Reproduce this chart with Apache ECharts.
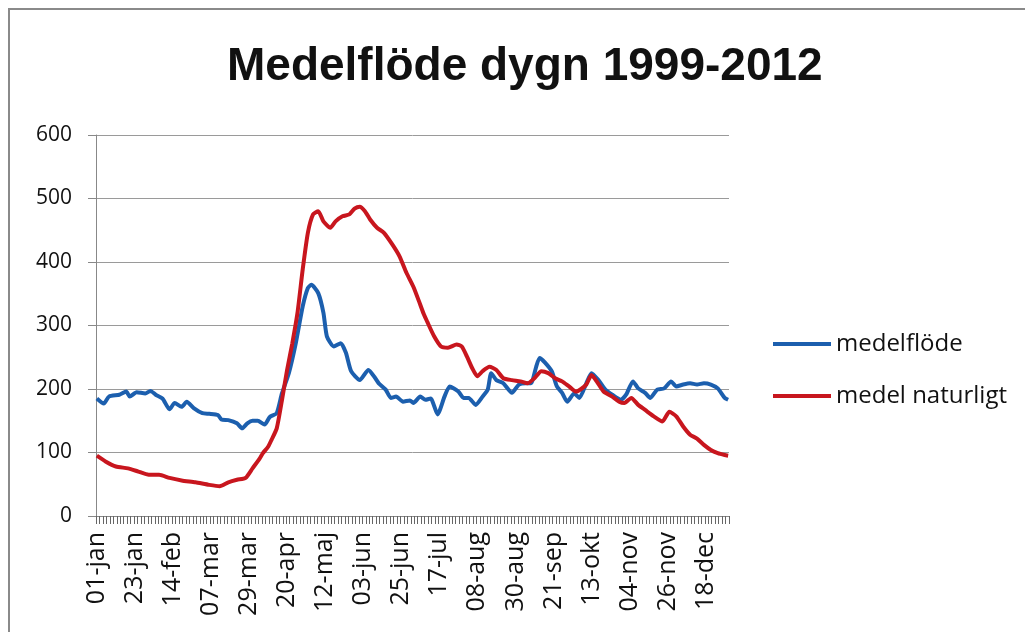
<!DOCTYPE html>
<html>
<head>
<meta charset="utf-8">
<script src="https://cdn.jsdelivr.net/npm/echarts@6/dist/echarts.min.js"></script>
<style>
html,body{margin:0;padding:0;background:#fff;}
#c{width:1025px;height:632px;}
</style>
</head>
<body>
<div id="c"></div>
<script>
// Category labels: daily dates of a leap year (1 jan .. 31 dec)
var monthNames = ['jan','feb','mar','apr','maj','jun','jul','aug','sep','okt','nov','dec'];
var monthLengths = [31,29,31,30,31,30,31,31,30,31,30,31];

// medelflöde: day index (0 = 01-jan) and value
var blueDays = [0,4,7,13,17,19,23,28,31,34,38,42,45,49,52,56,61,65,70,72,76,81,84,87,90,93,97,100,104,107,111,115,119,122,124,128,131,133,137,141,144,147,152,157,161,163,167,170,173,177,181,183,187,190,193,197,201,204,209,212,215,219,223,226,228,231,235,240,244,248,251,254,256,259,263,266,269,272,276,279,283,286,290,294,298,303,306,310,313,317,320,324,328,332,335,339,343,347,351,355,359,363,365];
var blueVals = [185,177,188,191,196,188,195,193,197,191,185,168,178,172,180,170,162,161,159,152,151,146,138,146,150,150,144,156,162,193,225,272,330,359,364,351,320,283,267,272,257,228,214,230,217,209,199,186,188,180,182,178,188,183,185,160,188,204,196,186,186,175,188,199,225,214,209,194,207,209,209,235,249,242,228,204,194,180,193,186,209,225,214,199,191,183,191,212,201,194,186,199,201,212,204,207,209,207,209,207,201,186,183];

// medel naturligt
var redDays = [0,5,11,18,24,30,36,42,49,57,65,71,76,81,86,90,94,96,99,101,104,107,110,113,116,119,122,125,128,131,135,138,142,146,149,152,155,158,162,166,171,175,179,183,186,189,191,195,199,203,208,211,214,217,220,223,227,231,235,240,245,249,253,257,261,265,269,273,277,280,283,286,289,293,298,302,305,309,313,317,322,327,331,335,339,343,347,351,355,359,363,365];
var redVals = [95,86,78,75,70,65,65,60,56,53,49,47,53,57,60,75,90,99,109,120,138,182,230,272,320,388,446,475,480,464,454,464,472,475,484,487,480,467,454,446,427,409,383,361,340,318,306,283,267,265,270,267,251,233,220,228,235,230,217,214,212,209,217,228,225,217,212,204,196,200,207,222,212,196,188,180,178,186,175,167,157,149,164,157,141,128,122,112,104,99,96,95];

var yTicks = {min: 0, max: 600, step: 100};
var seriesNames = ['medelflöde', 'medel naturligt'];
var titleText = 'Medelflöde dygn 1999-2012';

var categories = [];
for (var m = 0; m < 12; m++) {
  for (var d = 1; d <= monthLengths[m]; d++) {
    categories.push((d < 10 ? '0' + d : '' + d) + '-' + monthNames[m]);
  }
}
function pairs(days, vals) {
  var out = [];
  for (var i = 0; i < days.length; i++) out.push([days[i], vals[i]]);
  return out;
}

var chart = echarts.init(document.getElementById('c'));
chart.setOption({
  backgroundColor: '#fff',
  animation: false,
  title: {
    text: titleText,
    left: 222,
    top: 39,
    textStyle: {fontFamily: 'Liberation Sans', fontWeight: 'bold', fontSize: 46, color: '#111'}
  },
  graphic: [{
    type: 'rect',
    shape: {x: 9, y: 9, width: 1040, height: 650},
    style: {fill: 'none', stroke: '#8a8a8a', lineWidth: 2}
  }],
  legend: {
    orient: 'vertical',
    left: 768,
    top: 327,
    itemWidth: 58,
    itemHeight: 4,
    itemGap: 28,
    icon: 'rect',
    textStyle: {fontFamily: 'Open Sans', fontSize: 24, color: '#111'}
  },
  grid: {left: 96, right: 296, top: 135, bottom: 116, containLabel: false},
  xAxis: {
    type: 'category',
    data: categories,
    boundaryGap: true,
    axisLine: {lineStyle: {color: '#888', width: 1}},
    axisTick: {show: true, interval: 1, length: 8, lineStyle: {color: '#666', width: 1}},
    axisLabel: {
      interval: 21,
      rotate: 90,
      margin: 16,
      fontFamily: 'Open Sans',
      fontSize: 25,
      color: '#111'
    },
    splitLine: {show: false}
  },
  yAxis: {
    type: 'value',
    min: yTicks.min,
    max: yTicks.max,
    interval: yTicks.step,
    axisLine: {show: true, lineStyle: {color: '#888'}},
    axisTick: {show: true, length: 8, lineStyle: {color: '#888'}},
    axisLabel: {margin: 24, fontFamily: 'Open Sans', fontSize: 21, color: '#111'},
    splitLine: {lineStyle: {color: '#9a9a9a', width: 1}}
  },
  series: [
    {
      name: seriesNames[0],
      type: 'line',
      data: pairs(blueDays, blueVals),
      showSymbol: false,
      smooth: 0.2,
      color: '#1c5fae',
      lineStyle: {width: 4, color: '#1c5fae'}
    },
    {
      name: seriesNames[1],
      type: 'line',
      data: pairs(redDays, redVals),
      showSymbol: false,
      smooth: 0.2,
      color: '#c8161e',
      lineStyle: {width: 4, color: '#c8161e'}
    }
  ]
});
</script>
</body>
</html>
